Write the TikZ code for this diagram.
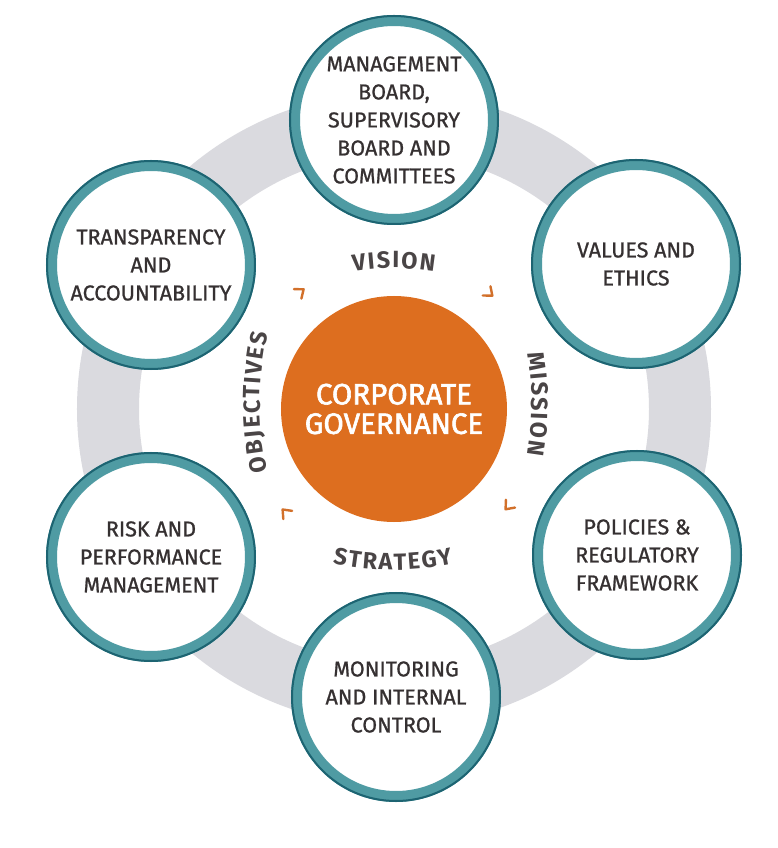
\documentclass[tikz,border=0pt]{standalone}
\usepackage{fontspec}
\setmainfont{Fira Sans}
\newfontfamily\pillarfont[FakeBold=0.9]{Fira Sans}
\newfontfamily\corefont[FakeBold=2]{Fira Sans}
\newcommand\arcstyle{\bfseries\fontsize{23.5}{23.5}\selectfont\kern1.8pt}
\usetikzlibrary{decorations.text}
\definecolor{ringgrey}{HTML}{DADADF}
\definecolor{rimteal}{HTML}{4F9BA3}
\definecolor{rimdark}{HTML}{1D6472}
\definecolor{coreorange}{HTML}{DD6E1F}
\definecolor{chevorange}{HTML}{D2702A}
\definecolor{inktext}{HTML}{353031}
\definecolor{arcink}{HTML}{4A4546}
\begin{document}
\begin{tikzpicture}[x=1pt, y=1pt,
  pillar/.style={circle, draw=rimteal, line width=11pt, fill=white, minimum size=199pt,
    align=center, text=inktext, font=\pillarfont\fontsize{21.5}{28}\selectfont, inner sep=0pt},
  core/.style={circle, fill=coreorange, minimum size=226pt, align=center, text=white,
    font=\corefont\fontsize{29.5}{29.5}\selectfont},
  chev/.style={chevorange, line width=2.4pt, line cap=round, line join=round},
  arclabel/.style={decorate, decoration={text along path, text align=center,
    text color=arcink, text={|\arcstyle|#1}}}]
\useasboundingbox (-394,-439) rectangle (383,409);
\fill[white] (-394,-439) rectangle (383,409);

% grey ring behind the circles
\draw[ringgrey, line width=62pt] (0,0) circle (286);

% the six pillars
\node[pillar] (board) at (0,289) {MANAGEMENT\\BOARD,\\SUPERVISORY\\BOARD AND\\COMMITTEES};
\node[pillar] (values) at (242,145) {VALUES AND\\ETHICS};
\node[pillar] (policies) at (243,-146) {POLICIES \&\\REGULATORY\\FRAMEWORK};
\node[pillar] (monitor) at (2,-288) {MONITORING\\AND INTERNAL\\CONTROL};
\node[pillar] (risk) at (-243,-148) {RISK AND\\PERFORMANCE\\MANAGEMENT};
\node[pillar] (transp) at (-243,144) {TRANSPARENCY\\AND\\ACCOUNTABILITY};
\foreach \n in {board,values,policies,monitor,risk,transp}
  \draw[rimdark, line width=2pt] (\n.center) circle (104);

% centre
\node[core] (gov) at (0,0) {CORPORATE\\GOVERNANCE};

% curved labels (flatter than the ring)
\path[arclabel=VISION] ([shift={(-1,-109)}]104:250) arc[start angle=104, end angle=76, radius=250];
\path[arclabel=MISSION] ([shift={(-162,6)}]15:300) arc[start angle=15, end angle=-15, radius=300];
\path[arclabel=STRATEGY] ([shift={(-2,119)}]-107:280) arc[start angle=-107, end angle=-73, radius=280];
\path[arclabel=OBJECTIVES] ([shift={(186,6)}]196:320) arc[start angle=196, end angle=164, radius=320];

% chevrons, clockwise
\foreach \a in {128,50,-41,-137}
  \draw[chev, shift={(\a:150)}, rotate=\a-90] (-5,6) -- (2.5,0) -- (-5,-6);
\end{tikzpicture}
\end{document}
